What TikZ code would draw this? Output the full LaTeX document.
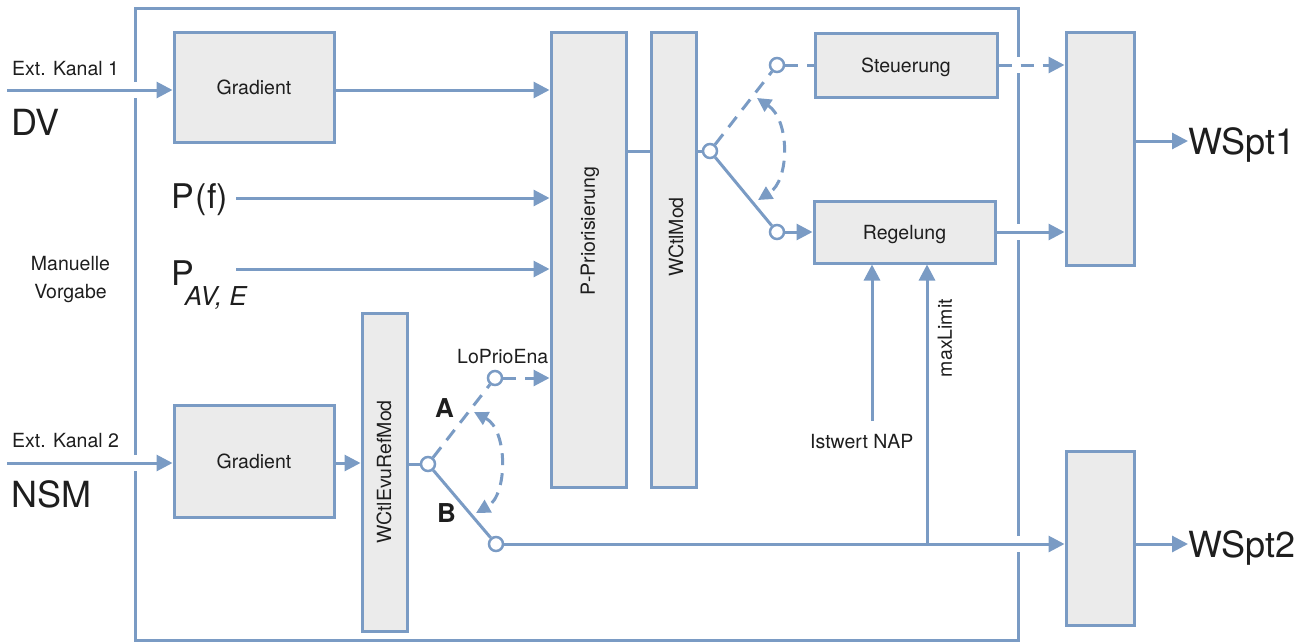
\documentclass[tikz,border=0pt]{standalone}
\usepackage{fontspec}
\setmainfont{TeX Gyre Heros}
\usepackage{xcolor}
\definecolor{blau}{RGB}{122,155,196}
\definecolor{grau}{RGB}{235,235,235}
\definecolor{schrift}{RGB}{30,30,30}
\usetikzlibrary{arrows.meta, positioning, calc}

\begin{document}
\begin{tikzpicture}[
    x=1pt, y=-1pt,
    every node/.style={text=schrift, font=\fontsize{19.5}{23}\selectfont},
    kasten/.style={draw=blau, fill=grau, line width=3pt, inner sep=0pt, text depth=0pt},
    link/.style={draw=blau, line width=3pt},
    pfeil/.style={link, -{Triangle[length=16pt, width=16pt]}},
    strich/.style={dash pattern=on 13pt off 9pt},
    kontakt/.style={circle, draw=blau, fill=white, line width=2.5pt,
                    minimum size=14pt, inner sep=0pt},
    gross/.style={font=\fontsize{36}{40}\selectfont, inner sep=0pt},
    fett/.style={font=\fontsize{26}{30}\selectfont\bfseries, inner sep=0pt},
    klein/.style={inner sep=0pt}
  ]
  \useasboundingbox (0,0) rectangle (1309,643);

  % Rahmen mit Luecken
  \draw[link] (135,8) rectangle (1018,640);
  \foreach \px/\py in {135/90, 135/463, 1018/65, 1018/232, 1018/544}
    \fill[white] (\px-4,\py-8) rectangle (\px+4,\py+8);

  % Kaesten
  \node[kasten, minimum width=160pt, minimum height=110pt] (grad1) at (254,87) {Gradient};
  \node[kasten, minimum width=160pt, minimum height=112pt] (grad2) at (254,461) {Gradient};
  \node[kasten, minimum width=75pt, minimum height=455pt] (prio) at (588.5,259.5) {};
  \node[rotate=90] (lprio) at (590,231) {P-Priorisierung};
  \node[kasten, minimum width=45pt, minimum height=455pt] (wctl) at (673.5,259.5) {};
  \node[rotate=90] (lwctl) at (676,237) {WCtlMod};
  \node[kasten, minimum width=45pt, minimum height=318pt] (evu) at (384.5,472) {};
  \node[rotate=90] (levu) at (384,472) {WCtlEvuRefMod};
  \node[kasten, minimum width=182pt, minimum height=64pt] (steuer) at (906,65) {Steuerung};
  \node[kasten, minimum width=181pt, minimum height=62pt] (regel) at (904.5,232) {Regelung};
  \node[kasten, minimum width=68pt, minimum height=233pt] (wspt1) at (1100,148.5) {};
  \node[kasten, minimum width=68pt, minimum height=174pt] (wspt2) at (1100,538) {};

  % Eingaenge links
  \node[klein, anchor=base west] (kanal1) at (12,75) {Ext. Kanal 1};
  \node[gross, anchor=base west] (dv) at (11,135) {DV};
  \node[klein, anchor=base west] (kanal2) at (12,447) {Ext. Kanal 2};
  \node[gross, anchor=base west] (nsm) at (11,507) {NSM};
  \node[klein, align=center, font=\fontsize{19.5}{28}\selectfont, anchor=base] (manuell)
    at (70.5,298) {Manuelle\\Vorgabe};
  \node[klein, anchor=base west, font=\fontsize{34}{36}\selectfont] (pf) at (171,208) {P\kern2pt(f)};
  \node[klein, anchor=base west, font=\fontsize{34}{36}\selectfont] (pav) at (171,285)
    {P\kern-9pt\raisebox{-20pt}{\fontsize{26}{28}\selectfont\itshape AV, E}};
  \coordinate (in1) at (7,90);
  \coordinate (in2) at (7,463);
  \coordinate (pfa) at (236,198);
  \coordinate (pava) at (236,269);

  % Schalter
  \node[kontakt] (s1) at (710,151) {};
  \node[kontakt] (s1o) at (777,65) {};
  \node[kontakt] (s1u) at (777,232) {};
  \node[kontakt] (s2) at (428,464) {};
  \node[kontakt] (s2a) at (495,378) {};
  \node[kontakt] (s2b) at (496,544) {};
  \node[klein, anchor=base west] (lolabel) at (457,363) {LoPrioEna};
  \node[fett, anchor=base west] (lA) at (435,417) {A};
  \node[fett, anchor=base west] (lB) at (437,522) {B};

  % Verbindungen
  \draw[pfeil] (in1) -- (in1 -| grad1.west);
  \draw[pfeil] (grad1.east |- in1) -- (prio.west |- in1);
  \draw[pfeil] (pfa) -- (pfa -| prio.west);
  \draw[pfeil] (pava) -- (pava -| prio.west);
  \draw[pfeil] (in2) -- (in2 -| grad2.west);
  \draw[pfeil] (grad2.east |- in2) -- (evu.west |- in2);
  \draw[link] (evu.east |- s2) -- (s2);
  \draw[link, strich] (s2) -- (s2a);
  \draw[pfeil, strich] (s2a) -- (s2a -| prio.west);
  \draw[link] (s2) -- (s2b);
  \draw[pfeil] (s2b) -- (s2b -| wspt2.west);
  \draw[link] (prio.east |- s1) -- (wctl.west |- s1);
  \draw[link] (wctl.east |- s1) -- (s1);
  \draw[link, strich] (s1) -- (s1o);
  \draw[link, strich] (s1o) -- (steuer);
  \draw[link] (s1) -- (s1u);
  \draw[pfeil] (s1u) -- (regel);
  \draw[pfeil, strich] (steuer.east) -- (steuer.east -| wspt1.west);
  \draw[pfeil] (regel.east) -- (regel.east -| wspt1.west);

  % Umschaltpfeile
  \coordinate (k1a) at (757,98);
  \coordinate (k1b) at (758,200);
  \draw[link, dash pattern=on 12pt off 8pt,
        {Triangle[length=14pt, width=14pt]}-{Triangle[length=14pt, width=14pt]}]
    (k1a) .. controls (790,120) and (790,180) .. (k1b);
  \coordinate (k2a) at (474,412);
  \coordinate (k2b) at (476,513);
  \draw[link, dash pattern=on 12pt off 8pt,
        {Triangle[length=14pt, width=14pt]}-{Triangle[length=14pt, width=14pt]}]
    (k2a) .. controls (508,430) and (508,495) .. (k2b);

  % Istwert und maxLimit
  \node[klein, anchor=base west] (ist) at (810,448) {Istwert NAP};
  \coordinate (istfuss) at (872,421);
  \draw[pfeil] (istfuss) -- (istfuss |- regel.south);
  \coordinate (abzw) at (927,544);
  \draw[pfeil] (abzw) -- (abzw |- regel.south);
  \node[klein, rotate=90] (max) at (945,338) {maxLimit};

  % Ausgaenge
  \coordinate (aus1) at (1134,141);
  \coordinate (aus2) at (1134,544);
  \node[gross, anchor=base west] (lw1) at (1188,154) {WSpt1};
  \node[gross, anchor=base west] (lw2) at (1188,557) {WSpt2};
  \draw[pfeil] (aus1) -- (aus1 -| lw1.west);
  \draw[pfeil] (aus2) -- (aus2 -| lw2.west);
\end{tikzpicture}
\end{document}
